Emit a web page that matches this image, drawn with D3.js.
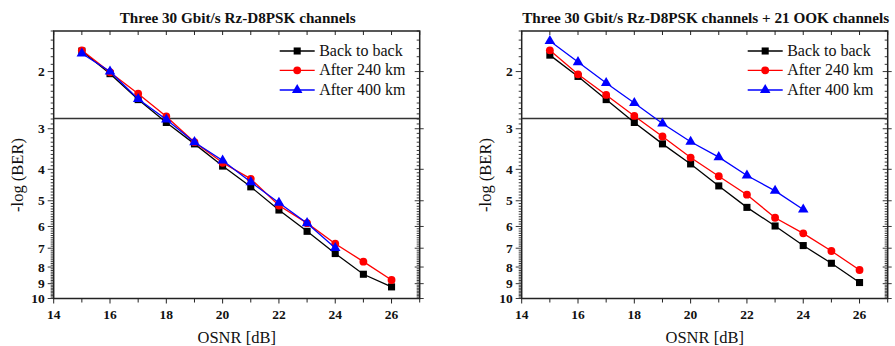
<!DOCTYPE html>
<html lang="en">
<head>
<meta charset="UTF-8">
<script src="https://cdn.jsdelivr.net/npm/d3@7"></script>
<title>BER vs OSNR</title>
<style>
    body { margin: 0; background: #fff; }
</style>
</head>
<body>
<script>
// x values (OSNR in dB)
const osnr = [15, 16, 17, 18, 19, 20, 21, 22, 23, 24, 25, 26];
const osnrShort = [15, 16, 17, 18, 19, 20, 21, 22, 23, 24];

// left panel: three Rz-D8PSK channels, -log(BER)
const leftB2B = [1.73, 2.03, 2.44, 2.87, 3.34, 3.91, 4.53, 5.34, 6.21, 7.27, 8.42, 9.21];
const left240 = [1.72, 2.01, 2.34, 2.75, 3.30, 3.82, 4.28, 5.17, 5.86, 6.78, 7.70, 8.77];
const left400 = [1.76, 2.00, 2.43, 2.81, 3.30, 3.76, 4.38, 5.07, 5.86, 6.99];

// right panel: + 21 OOK channels
const rightB2B = [1.78, 2.07, 2.44, 2.87, 3.34, 3.85, 4.50, 5.24, 5.98, 6.87, 7.79, 8.93];
const right240 = [1.72, 2.04, 2.36, 2.74, 3.17, 3.68, 4.20, 4.79, 5.64, 6.30, 7.14, 8.17];
const right400 = [1.61, 1.87, 2.17, 2.50, 2.89, 3.29, 3.67, 4.18, 4.66, 5.32];

const threshold = 2.79;  // FEC limit line
const xTicks = [14, 16, 18, 20, 22, 24, 26];
const yTicks = [2, 3, 4, 5, 6, 7, 8, 9, 10];
const seriesNames = ["Back to back", "After 240 km", "After 400 km"];
const seriesColors = ["#000000", "#ff0000", "#0000ff"];
const seriesShapes = [d3.symbolSquare, d3.symbolCircle, d3.symbolTriangle];
const seriesSizes = [50, 48, 48];

const serif = "'Liberation Serif', 'Times New Roman', Times, 'DejaVu Serif', serif";

const svg = d3.select("body").append("svg")
    .attr("width", 895)
    .attr("height", 346)
    .style("font-family", serif);

function addText(g, size, weight) {
    return g.append("text")
        .style("font-family", serif)
        .style("font-size", size + "px")
        .style("font-weight", weight)
        .attr("fill", "#111");
}

function drawPanel(left, title, xs, ys) {
    const x = d3.scaleLinear().domain([14, 27]).range([left, left + 366]);
    const y = d3.scaleLog().domain([1.5, 10]).range([31, 298.5]);
    const g = svg.append("g");

    // title
    addText(g, 15.2, "bold")
        .attr("x", left + 184).attr("y", 22.5)
        .attr("text-anchor", "middle")
        .text(title);

    const yMinor = d3.range(15, 101).map(d => d / 10);
    const xMinor = d3.range(14, 28);
    const isMajor = d => Number.isInteger(d) && d >= 2;

    // left axis ticks (outward)
    g.selectAll(".ylm").data(yMinor).enter().append("line")
        .attr("x1", d => left - (isMajor(d) ? 6 : 3))
        .attr("x2", left)
        .attr("y1", d => y(d)).attr("y2", d => y(d))
        .attr("stroke", "#222").attr("stroke-width", 0.9);
    // right axis ticks (inward)
    g.selectAll(".yrm").data(yMinor).enter().append("line")
        .attr("x1", d => left + 366 - (isMajor(d) ? 5 : 3))
        .attr("x2", d => left + 366 + (isMajor(d) ? 4 : 0))
        .attr("y1", d => y(d)).attr("y2", d => y(d))
        .attr("stroke", "#222").attr("stroke-width", 0.9);
    // bottom ticks (outward)
    g.selectAll(".xb").data(xMinor).enter().append("line")
        .attr("x1", d => x(d)).attr("x2", d => x(d))
        .attr("y1", 298.5)
        .attr("y2", d => 298.5 + (d % 2 === 0 ? 5 : 4))
        .attr("stroke", "#222").attr("stroke-width", 1);
    // top ticks (inward)
    g.selectAll(".xt").data(xMinor).enter().append("line")
        .attr("x1", d => x(d)).attr("x2", d => x(d))
        .attr("y1", 31).attr("y2", 35)
        .attr("stroke", "#222").attr("stroke-width", 1);

    // frame
    g.append("rect")
        .attr("x", left).attr("y", 31)
        .attr("width", 366).attr("height", 267.5)
        .attr("fill", "none").attr("stroke", "#222").attr("stroke-width", 1.5);

    // tick labels
    xTicks.forEach(d => {
        addText(g, 13.5, "bold")
            .attr("x", x(d)).attr("y", 319)
            .attr("text-anchor", "middle")
            .text(d);
    });
    yTicks.forEach(d => {
        addText(g, 13.5, "bold")
            .attr("x", left - 9).attr("y", y(d) + 4.5)
            .attr("text-anchor", "end")
            .text(d);
    });

    // axis labels
    addText(g, 16.5, "normal")
        .attr("x", left + 183).attr("y", 343)
        .attr("text-anchor", "middle")
        .text("OSNR [dB]");
    addText(g, 16.5, "normal")
        .attr("transform", `translate(${left - 31},175) rotate(-90)`)
        .attr("text-anchor", "middle")
        .text("-log (BER)");

    // threshold line
    g.append("line")
        .attr("x1", left).attr("x2", left + 366)
        .attr("y1", y(threshold)).attr("y2", y(threshold))
        .attr("stroke", "#333").attr("stroke-width", 1.6);

    const line = d3.line().x(d => x(d[0])).y(d => y(d[1]));

    ys.forEach((vals, i) => {
        const pts = vals.map((v, k) => [xs[i][k], v]);
        g.append("path").datum(pts)
            .attr("d", line)
            .attr("fill", "none")
            .attr("stroke", seriesColors[i])
            .attr("stroke-width", 1.3);
        g.selectAll(".m" + i).data(pts).enter().append("path")
            .attr("transform", d => `translate(${x(d[0])},${y(d[1])})`)
            .attr("d", d3.symbol().type(seriesShapes[i]).size(seriesSizes[i]))
            .attr("fill", seriesColors[i]);
    });

    // legend
    seriesNames.forEach((name, i) => {
        const ly = [51, 70.3, 90][i];
        g.append("line")
            .attr("x1", left + 226).attr("x2", left + 261)
            .attr("y1", ly).attr("y2", ly)
            .attr("stroke", seriesColors[i]).attr("stroke-width", 1.3);
        g.append("path")
            .attr("transform", `translate(${left + 243.5},${ly})`)
            .attr("d", d3.symbol().type(seriesShapes[i]).size(seriesSizes[i]))
            .attr("fill", seriesColors[i]);
        addText(g, 16, "normal")
            .attr("x", left + 265.5).attr("y", ly + 5)
            .text(name);
    });
}

drawPanel(53.7, "Three 30 Gbit/s Rz-D8PSK channels",
    [osnr, osnr, osnrShort], [leftB2B, left240, left400]);
drawPanel(521.7, "Three 30 Gbit/s Rz-D8PSK channels + 21 OOK channels",
    [osnr, osnr, osnrShort], [rightB2B, right240, right400]);
</script>
</body>
</html>
